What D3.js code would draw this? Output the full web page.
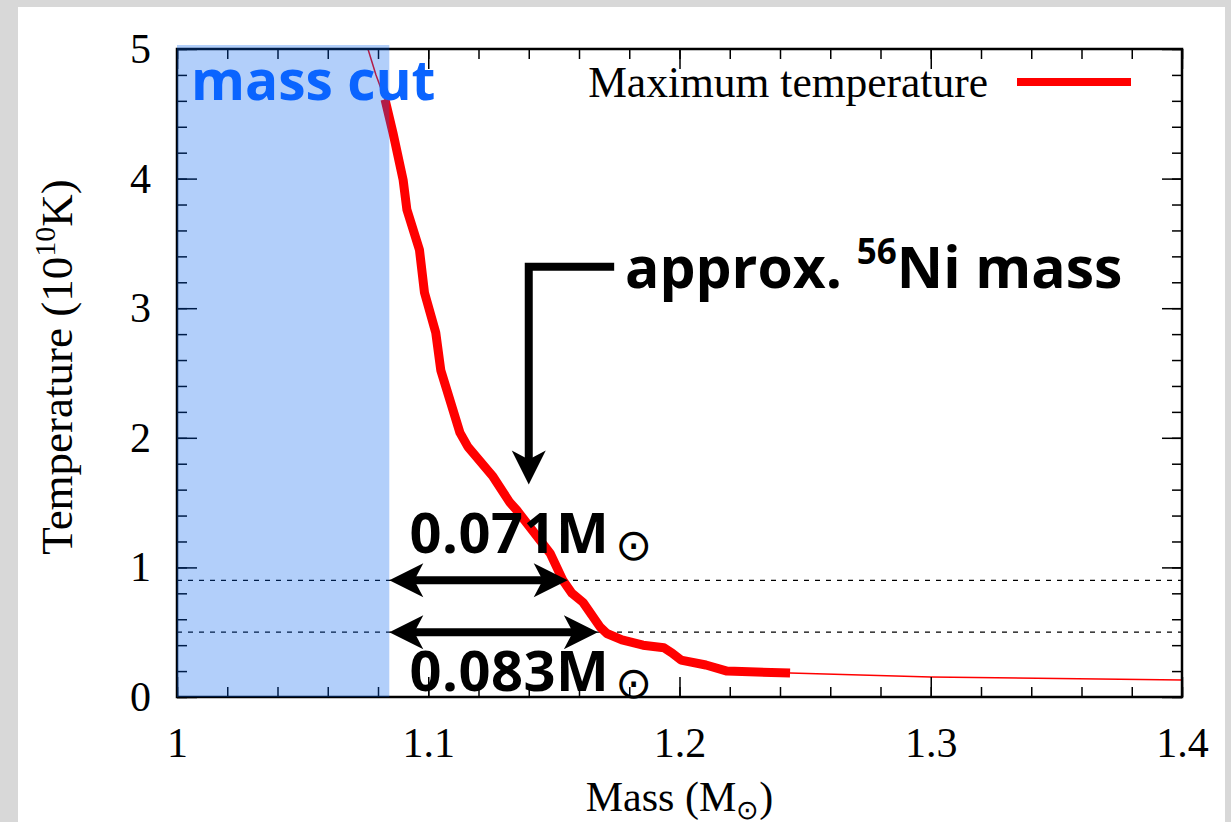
<!DOCTYPE html>
<html>
<head>
<meta charset="utf-8">
<script src="https://cdn.jsdelivr.net/npm/d3@7"></script>
<style>
  body { margin: 0; background: #d8d8d8; }
  svg { display: block; }
</style>
</head>
<body>
<svg id="chart" width="1231" height="822"></svg>
<script>
// Maximum temperature profile (10^10 K) against enclosed mass (Msun)
const massValues = [1.0760, 1.0792, 1.0828, 1.0860, 1.0900, 1.0915, 1.0965, 1.0985, 1.1030, 1.1050,
                    1.1126, 1.1158, 1.1258, 1.1325, 1.1353, 1.1485, 1.1536, 1.1572, 1.1616, 1.1684,
                    1.1711, 1.1771, 1.1855, 1.1938, 1.1970, 1.2006, 1.2105, 1.2189, 1.2440, 1.3000, 1.4000];
const tempValues = [5.00, 4.80, 4.61, 4.35, 3.99, 3.76, 3.45, 3.12, 2.81, 2.52,
                    2.04, 1.93, 1.70, 1.50, 1.44, 1.11, 0.90, 0.80, 0.73, 0.54,
                    0.49, 0.44, 0.40, 0.38, 0.34, 0.285, 0.247, 0.20, 0.185, 0.154, 0.131];

// Highlighted part of the profile
const thickRange = [1.0828, 1.2440];

// Mass cut and ejected-mass annotations
const massCut = 1.0845;
const thresholds = [0.9, 0.5];
const ejectaMass = [0.071, 0.083];
const ejectaLabels = ["0.071M", "0.083M"];

// Axis ticks
const xTicks = [1.0, 1.1, 1.2, 1.3, 1.4];
const xTickLabels = ["1", "1.1", "1.2", "1.3", "1.4"];
const yTicks = [0, 1, 2, 3, 4, 5];

const svg = d3.select("#chart");
const W = 1231, H = 822;
const plot = { left: 177, right: 1182, top: 49, bottom: 697 };

const x = d3.scaleLinear().domain([1.0, 1.4]).range([plot.left, plot.right]);
const y = d3.scaleLinear().domain([0, 5]).range([plot.bottom, plot.top]);

const serif = "'Liberation Serif', 'Times New Roman', serif";
const sans = "'Open Sans', 'Noto Sans', sans-serif";

// page background and white panel
svg.append("rect").attr("width", W).attr("height", H).attr("fill", "#d8d8d8");
svg.append("rect").attr("x", 18).attr("y", 7).attr("width", 1207).attr("height", H).attr("fill", "#ffffff");

const clip = svg.append("defs").append("clipPath").attr("id", "plotclip");
clip.append("rect").attr("x", plot.left).attr("y", plot.top - 4)
  .attr("width", plot.right - plot.left).attr("height", plot.bottom - plot.top + 4);

// dotted threshold lines
svg.append("g").selectAll("line").data(thresholds).join("line")
  .attr("x1", plot.left).attr("x2", plot.right)
  .attr("y1", d => y(d)).attr("y2", d => y(d))
  .attr("stroke", "#000").attr("stroke-width", 1.2).attr("stroke-dasharray", "5,6");

// temperature curve
const points = massValues.map((m, i) => ({ m, t: tempValues[i] }));
const line = d3.line().x(d => x(d.m)).y(d => y(d.t));
const curves = svg.append("g").attr("clip-path", "url(#plotclip)");
curves.append("path").datum(points).attr("d", line)
  .attr("fill", "none").attr("stroke", "#ff0000").attr("stroke-width", 1.5);
curves.append("path").datum(points.filter(d => d.m >= thickRange[0] && d.m <= thickRange[1]))
  .attr("d", line).attr("fill", "none").attr("stroke", "#ff0000")
  .attr("stroke-width", 9).attr("stroke-linejoin", "round");

// axes with inward ticks on all four sides
function styleAxis(g) {
  g.select(".domain").remove();
  g.selectAll(".tick line").attr("stroke", "#000").attr("stroke-width", 1.5);
  g.selectAll("text").attr("font-family", serif).attr("font-size", 42).attr("fill", "#000");
}
const xMinor = d3.range(1.0, 1.4001, 0.02);
const yMinor = d3.range(0, 5.001, 0.2);

svg.append("g").attr("transform", `translate(0,${plot.bottom})`)
  .call(d3.axisBottom(x).tickValues(xMinor).tickSize(-10).tickFormat("")).call(styleAxis);
svg.append("g").attr("transform", `translate(0,${plot.bottom})`)
  .call(d3.axisBottom(x).tickValues(xTicks).tickSize(-20).tickPadding(30)
    .tickFormat((d, i) => xTickLabels[i])).call(styleAxis);
svg.append("g").attr("transform", `translate(0,${plot.top})`)
  .call(d3.axisTop(x).tickValues(xMinor).tickSize(-10).tickFormat("")).call(styleAxis);
svg.append("g").attr("transform", `translate(0,${plot.top})`)
  .call(d3.axisTop(x).tickValues(xTicks).tickSize(-20).tickFormat("")).call(styleAxis);

svg.append("g").attr("transform", `translate(${plot.left},0)`)
  .call(d3.axisLeft(y).tickValues(yMinor).tickSize(-10).tickFormat("")).call(styleAxis);
svg.append("g").attr("transform", `translate(${plot.left},0)`)
  .call(d3.axisLeft(y).tickValues(yTicks).tickSize(-20).tickPadding(26).tickFormat(d3.format("d")))
  .call(styleAxis);
svg.append("g").attr("transform", `translate(${plot.right},0)`)
  .call(d3.axisRight(y).tickValues(yMinor).tickSize(-10).tickFormat("")).call(styleAxis);
svg.append("g").attr("transform", `translate(${plot.right},0)`)
  .call(d3.axisRight(y).tickValues(yTicks).tickSize(-20).tickFormat("")).call(styleAxis);

// frame
svg.append("rect").attr("x", plot.left).attr("y", plot.top)
  .attr("width", plot.right - plot.left).attr("height", plot.bottom - plot.top)
  .attr("fill", "none").attr("stroke", "#000").attr("stroke-width", 2.5);

// mass-cut shading over the inner region
svg.append("rect").attr("x", x(1.0)).attr("y", plot.top - 4)
  .attr("width", x(massCut) - x(1.0)).attr("height", plot.bottom - plot.top + 4)
  .attr("fill", "rgb(0,96,240)").attr("opacity", 0.3);

// arrowhead: tip at origin, pointing along +x
function arrowHead(g, tx, ty, angle) {
  g.append("path")
    .attr("d", "M0,0 L-34,-17 L-25,0 L-34,17 Z")
    .attr("transform", `translate(${tx},${ty}) rotate(${angle})`)
    .attr("fill", "#000");
}

// double arrows spanning mass cut to threshold crossing
const ann = svg.append("g");
thresholds.forEach((t, i) => {
  const x0 = x(massCut), x1 = x(massCut + ejectaMass[i]), yy = y(t);
  ann.append("line").attr("x1", x0 + 20).attr("x2", x1 - 20).attr("y1", yy).attr("y2", yy)
    .attr("stroke", "#000").attr("stroke-width", 8);
  arrowHead(ann, x1, yy, 0);
  arrowHead(ann, x0, yy, 180);
});

// ejecta labels
const labelPos = [{ m: 1.0925, t: 1.11 }, { m: 1.0925, t: 0.045 }];
ejectaLabels.forEach((lab, i) => {
  const txt = ann.append("text").attr("x", x(labelPos[i].m)).attr("y", y(labelPos[i].t))
    .attr("font-family", sans).attr("font-weight", 700).attr("font-size", 56)
    .attr("letter-spacing", 0.5).attr("fill", "#000");
  txt.append("tspan").text(lab);
  txt.append("tspan").text("\u2299").attr("font-family", "'DejaVu Sans', sans-serif")
    .attr("font-weight", 400).attr("font-size", 44).attr("dx", 6).attr("dy", 7);
});

// pointer to the approximate 56Ni mass
const pointerTip = { m: 1.1400, t: 1.64 };
const pointerCorner = { m: 1.1400, t: 3.32 };
const pointerStart = { m: 1.1740, t: 3.32 };
ann.append("path")
  .attr("d", `M${x(pointerStart.m)},${y(pointerStart.t)} L${x(pointerCorner.m) - 4},${y(pointerCorner.t)} ` +
             `M${x(pointerCorner.m)},${y(pointerCorner.t) - 4} L${x(pointerTip.m)},${y(pointerTip.t) - 20}`)
  .attr("stroke", "#000").attr("stroke-width", 8).attr("fill", "none");
arrowHead(ann, x(pointerTip.m), y(pointerTip.t), 90);

const niText = ann.append("text").attr("x", 625).attr("y", 288)
  .attr("font-family", sans).attr("font-weight", 700).attr("font-size", 57).attr("fill", "#000");
niText.append("tspan").text("approx. ");
niText.append("tspan").text("56").attr("font-size", 35).attr("dy", -24);
niText.append("tspan").text("Ni mass").attr("dy", 24);

// mass cut label
svg.append("text").attr("x", 191).attr("y", 100)
  .attr("font-family", sans).attr("font-weight", 700).attr("font-size", 55)
  .attr("fill", "#0a64ff").text("mass cut");

// legend
svg.append("text").attr("x", 988).attr("y", 97).attr("text-anchor", "end")
  .attr("font-family", serif).attr("font-size", 43.5).attr("fill", "#000").text("Maximum temperature");
svg.append("line").attr("x1", 1017).attr("x2", 1131).attr("y1", 82).attr("y2", 82)
  .attr("stroke", "#ff0000").attr("stroke-width", 8);

// axis titles
const xt = svg.append("text").attr("x", (plot.left + plot.right) / 2).attr("y", 811)
  .attr("text-anchor", "middle").attr("font-family", serif).attr("font-size", 42).attr("fill", "#000");
xt.append("tspan").text("Mass (M");
xt.append("tspan").text("\u2299").attr("font-size", 27).attr("dy", 8);
xt.append("tspan").text(")").attr("dy", -8);

const yt = svg.append("text").attr("transform", `translate(72,367) rotate(-90)`)
  .attr("text-anchor", "middle").attr("font-family", serif).attr("font-size", 45).attr("fill", "#000");
yt.append("tspan").text("Temperature (10");
yt.append("tspan").text("10").attr("font-size", 30).attr("dy", -17);
yt.append("tspan").text("K)").attr("dy", 17);
</script>
</body>
</html>
